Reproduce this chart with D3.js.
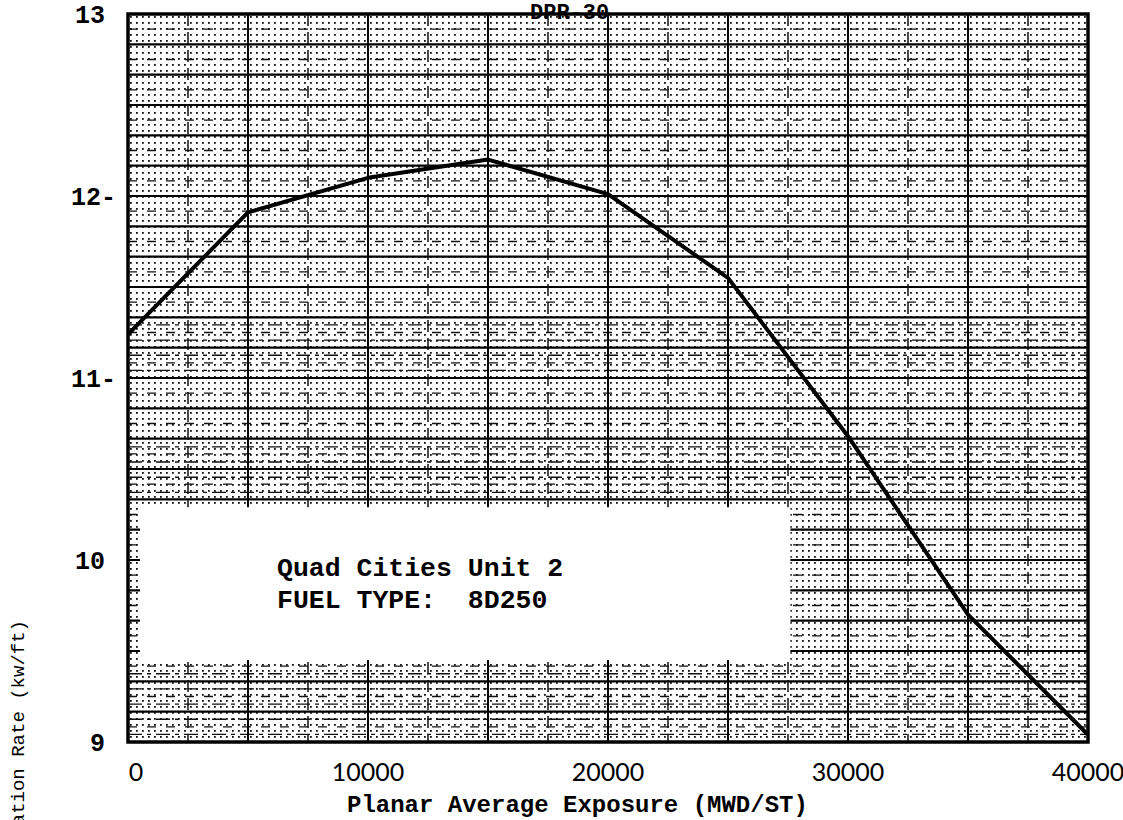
<!DOCTYPE html>
<html>
<head>
<meta charset="utf-8">
<script src="https://cdn.jsdelivr.net/npm/d3@7"></script>
<style>
	body { margin: 0; background: #fff; }
	svg { display: block; }
</style>
</head>
<body>
<svg id="chart"></svg>
<script>
// values
const exposure = [0, 5000, 10000, 15000, 20000, 25000, 30000, 35000, 40000];
const rate = [11.24, 11.91, 12.1, 12.2, 12.01, 11.55, 10.68, 9.7, 9.04];

const xTicks = [0, 10000, 20000, 30000, 40000];
const xTickLabels = ["0", "10000", "20000", "30000", "40000"];
const yTicks = [9, 10, 11, 12, 13];
const yTickLabels = ["9", "10", "11-", "12-", "13"];

const noteLines = ["Quad Cities Unit 2", "FUEL TYPE:  8D250"];
const topLabel = "DPR-30";
const xTitle = "Planar Average Exposure (MWD/ST)";
const yTitle = "Maximum Average Planar Linear Heat Generation Rate (kw/ft)";

let width = 1123;
let height = 820;

let svg = d3.select("#chart")
	.attr("width", width)
	.attr("height", height);

let x = d3.scaleLinear().domain([0, 40000]).range([128, 1088]);
let y = d3.scaleLinear().domain([9, 13]).range([742, 14]);

let plotW = x(40000) - x(0);
let plotH = y(9) - y(13);

// graph paper dots
let defs = svg.append("defs");
let pat = defs.append("pattern")
	.attr("id", "dots")
	.attr("patternUnits", "userSpaceOnUse")
	.attr("x", x(0) + 2)
	.attr("y", y(13) + 2)
	.attr("width", 6)
	.attr("height", 6);
pat.append("rect")
	.attr("width", 1.8)
	.attr("height", 1.8)
	.attr("fill", "#111");

svg.append("rect")
	.attr("x", x(0))
	.attr("y", y(13))
	.attr("width", plotW)
	.attr("height", plotH)
	.attr("fill", "url(#dots)");

let grid = svg.append("g").attr("class", "grid");

// horizontal rules, every 1/6 kw/ft, dashed ones in between
let hMajor = d3.range(1, 24).map(i => 9 + i / 6);
let hMinor = d3.range(0, 24).map(i => 9 + (i + 0.5) / 6);
let hDense = [];
[[9, 9.45], [10.33, 10.67], [11.0, 11.33]].forEach(function(b) {
	d3.range(b[0] + 1 / 24, b[1], 1 / 12).forEach(v => hDense.push(v));
});

grid.selectAll("line.hdense")
	.data(hDense)
	.enter().append("line")
	.attr("class", "hdense")
	.attr("x1", x(0)).attr("x2", x(40000))
	.attr("y1", d => y(d)).attr("y2", d => y(d))
	.attr("stroke", "#111")
	.attr("stroke-width", 1.4)
	.attr("stroke-dasharray", "14 5 4 5");

grid.selectAll("line.hminor")
	.data(hMinor)
	.enter().append("line")
	.attr("class", "hminor")
	.attr("x1", x(0)).attr("x2", x(40000))
	.attr("y1", d => y(d)).attr("y2", d => y(d))
	.attr("stroke", "#111")
	.attr("stroke-width", 1.3)
	.attr("stroke-dasharray", "9 10");

grid.selectAll("line.hmajor")
	.data(hMajor)
	.enter().append("line")
	.attr("class", "hmajor")
	.attr("x1", x(0)).attr("x2", x(40000))
	.attr("y1", d => y(d)).attr("y2", d => y(d))
	.attr("stroke", "#000")
	.attr("stroke-width", 2.2);

// vertical rules, solid every 5000, dashed every 2500
let vMajor = d3.range(5000, 40000, 5000);
let vMinor = d3.range(2500, 40000, 5000);

grid.selectAll("line.vminor")
	.data(vMinor)
	.enter().append("line")
	.attr("class", "vminor")
	.attr("x1", d => x(d)).attr("x2", d => x(d))
	.attr("y1", y(13)).attr("y2", y(9))
	.attr("stroke", "#111")
	.attr("stroke-width", 1.5)
	.attr("stroke-dasharray", "12 6");

grid.selectAll("line.vmajor")
	.data(vMajor)
	.enter().append("line")
	.attr("class", "vmajor")
	.attr("x1", d => x(d)).attr("x2", d => x(d))
	.attr("y1", y(13)).attr("y2", y(9))
	.attr("stroke", "#000")
	.attr("stroke-width", 2);

// blank label box pasted over the paper
svg.append("rect")
	.attr("x", x(500))
	.attr("y", y(10.29))
	.attr("width", x(27600) - x(500))
	.attr("height", y(9.45) - y(10.29))
	.attr("fill", "#fff");

svg.selectAll("text.note")
	.data(noteLines)
	.enter().append("text")
	.attr("class", "note")
	.attr("x", 277)
	.attr("y", (d, i) => 576 + i * 32)
	.attr("xml:space", "preserve")
	.style("font-family", "'Liberation Mono', monospace")
	.style("font-weight", "bold")
	.style("font-size", "26.5px")
	.style("white-space", "pre")
	.text(d => d);

// the curve
let line = d3.line()
	.x(d => x(d[0]))
	.y(d => y(d[1]));

svg.append("path")
	.datum(d3.zip(exposure, rate))
	.attr("d", line)
	.attr("fill", "none")
	.attr("stroke", "#000")
	.attr("stroke-width", 4)
	.attr("stroke-linejoin", "round");

// frame
svg.append("rect")
	.attr("x", x(0))
	.attr("y", y(13))
	.attr("width", plotW)
	.attr("height", plotH)
	.attr("fill", "none")
	.attr("stroke", "#000")
	.attr("stroke-width", 3.5);

// tick labels
svg.selectAll("text.ytick")
	.data(yTicks)
	.enter().append("text")
	.attr("class", "ytick")
	.attr("x", (d, i) => yTickLabels[i].endsWith("-") ? 116 : 105)
	.attr("y", d => y(d))
	.attr("dy", "0.35em")
	.attr("text-anchor", "end")
	.style("font-family", "'Liberation Mono', monospace")
	.style("font-weight", "bold")
	.style("font-size", "25px")
	.text((d, i) => yTickLabels[i]);

svg.selectAll("text.xtick")
	.data(xTicks)
	.enter().append("text")
	.attr("class", "xtick")
	.attr("x", d => x(d) + (d === 0 ? 8 : 0))
	.attr("y", 781)
	.attr("text-anchor", "middle")
	.style("font-family", "Lato, sans-serif")
	.style("font-size", "25px")
	.text((d, i) => xTickLabels[i]);

// titles
svg.append("text")
	.attr("x", 347)
	.attr("y", 812)
	.style("font-family", "'Liberation Mono', monospace")
	.style("font-weight", "bold")
	.style("font-size", "24px")
	.text(xTitle);

svg.append("text")
	.attr("transform", "translate(24,620) rotate(-90)")
	.attr("text-anchor", "end")
	.style("font-family", "'Liberation Mono', monospace")
	.style("font-size", "19px")
	.text(yTitle);

svg.append("text")
	.attr("x", 530)
	.attr("y", 19)
	.style("font-family", "'Liberation Mono', monospace")
	.style("font-weight", "bold")
	.style("font-size", "22px")
	.text(topLabel);
</script>
</body>
</html>
